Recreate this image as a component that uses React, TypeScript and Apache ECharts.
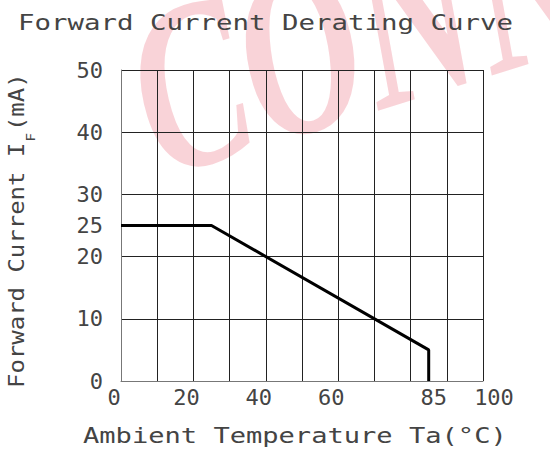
import React, { useEffect, useRef } from "react";
import * as echarts from "echarts";

const temperature = [0, 25, 85, 85];
const current = [25, 25, 5, 0];
const xTickLabels = [0, 20, 40, 60, 85, 100];
const yTickLabels = [0, 10, 20, 25, 30, 40, 50];
const titleText = "Forward Current Derating Curve";
const xAxisTitle = "Ambient Temperature Ta(°C)";
const yAxisTitleMain = "Forward Current I";
const yAxisTitleSub = "F";
const yAxisTitleUnit = "(mA)";
const watermarkText = "CONN";

const MONO = "'DejaVu Sans Mono', monospace";
const TXT = "#444444";

export default function App() {
  const ref = useRef<HTMLDivElement>(null);
  useEffect(() => {
    if (!ref.current) return;
    const chart = echarts.init(ref.current, null, { renderer: "svg" });
    const labelFont = { fontFamily: MONO, fontSize: 22, color: TXT };
    const yFont = 22;
    const yScale = 1.09;
    const yCharW = yFont * 0.602 * yScale;
    const yStart = 388;
    const mainLen = yAxisTitleMain.length * yCharW;
    const subW = 13 * 0.602 * yScale;
    chart.setOption({
      animation: false,
      backgroundColor: "#ffffff",
      grid: { left: 121, right: 67, top: 70, bottom: 69, containLabel: false },
      xAxis: {
        type: "value",
        min: 0,
        max: 100,
        interval: 10,
        axisLine: { show: true, lineStyle: { color: "#777", width: 1 } },
        axisTick: { show: false },
        splitLine: { show: true, lineStyle: { color: "#222", width: 1 } },
        axisLabel: {
          customValues: xTickLabels,
          margin: 5,
          ...labelFont,
          formatter: (v: number) => {
            const k = v === 85 ? "r1" : v === 100 ? "r2" : "l";
            return `{${k}|${v}}`;
          },
          rich: {
            l: { ...labelFont, padding: [0, 14, 0, 0] },
            r1: { ...labelFont, padding: [0, 0, 0, 10] },
            r2: { ...labelFont, padding: [0, 0, 0, 22] },
          },
        },
      },
      yAxis: {
        type: "value",
        min: 0,
        max: 50,
        interval: 10,
        axisLine: { show: true, lineStyle: { color: "#777", width: 1 } },
        axisTick: { show: false },
        splitLine: { show: true, lineStyle: { color: "#222", width: 1 } },
        axisLabel: {
          customValues: yTickLabels,
          margin: 18,
          ...labelFont,
        },
      },
      series: [
        {
          type: "line",
          data: temperature.map((t, i) => [t, current[i]]),
          symbol: "none",
          lineStyle: { color: "#000", width: 3 },
          z: 5,
        },
      ],
      graphic: [
        {
          type: "text",
          x: 172,
          y: 215,
          rotation: 0.3,
          scaleY: 1.45,
          z: -10,
          silent: true,
          style: {
            text: watermarkText,
            fontFamily: "'Liberation Serif', serif",
            fontStyle: "italic",
            fontWeight: "bold",
            fontSize: 165,
            fill: "rgba(232,70,90,0.24)",
            textAlign: "left",
            textVerticalAlign: "bottom",
          },
        },
        {
          type: "text",
          x: 18,
          y: 22,
          scaleX: 1.246,
          style: {
            text: titleText,
            fontFamily: MONO,
            fontSize: 22,
            fill: TXT,
            textAlign: "left",
            textVerticalAlign: "middle",
          },
        },
        {
          type: "text",
          x: 83,
          y: 436,
          scaleX: 1.29,
          style: {
            text: xAxisTitle,
            fontFamily: MONO,
            fontSize: 21,
            fill: TXT,
            textAlign: "left",
            textVerticalAlign: "middle",
          },
        },
        {
          type: "text",
          x: 16,
          y: yStart,
          rotation: Math.PI / 2,
          scaleX: yScale,
          style: {
            text: yAxisTitleMain,
            fontFamily: MONO,
            fontSize: yFont,
            fill: TXT,
            textAlign: "left",
            textVerticalAlign: "middle",
          },
        },
        {
          type: "text",
          x: 30,
          y: yStart - mainLen - 1,
          rotation: Math.PI / 2,
          scaleX: yScale,
          style: {
            text: yAxisTitleSub,
            fontFamily: MONO,
            fontSize: 13,
            fill: TXT,
            textAlign: "left",
            textVerticalAlign: "middle",
          },
        },
        {
          type: "text",
          x: 16,
          y: yStart - mainLen - subW - 3,
          rotation: Math.PI / 2,
          scaleX: yScale,
          style: {
            text: yAxisTitleUnit,
            fontFamily: MONO,
            fontSize: yFont,
            fill: TXT,
            textAlign: "left",
            textVerticalAlign: "middle",
          },
        },
      ],
    });
    return () => chart.dispose();
  }, []);
  return (
    <div
      ref={ref}
      style={{ position: "absolute", left: 0, top: 0, width: 550, height: 450 }}
    />
  );
}
